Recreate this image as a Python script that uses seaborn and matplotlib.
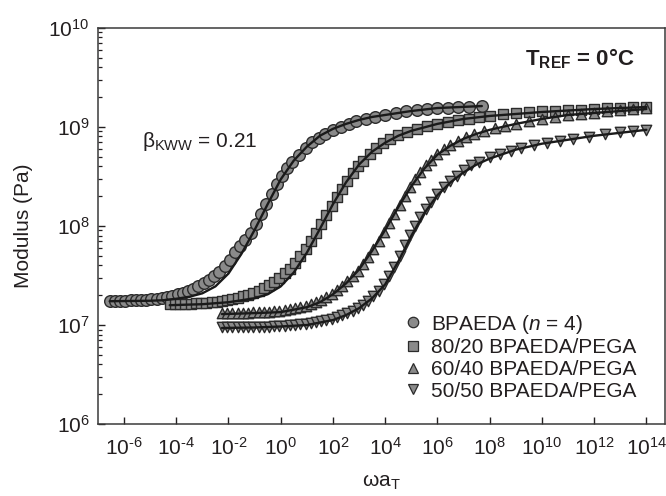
import numpy as np
import pandas as pd
import matplotlib
matplotlib.use("Agg")
import matplotlib.pyplot as plt
import seaborn as sns
from matplotlib.lines import Line2D
from matplotlib.ticker import FixedLocator, NullLocator, LogLocator, FuncFormatter

# ---------------- data (log10 values) ----------------
labels = ["BPAEDA ($\\mathit{n}$ = 4)", "80/20 BPAEDA/PEGA",
          "60/40 BPAEDA/PEGA", "50/50 BPAEDA/PEGA"]

bpaeda_logw = [-6.55, -6.35, -6.15, -5.95, -5.75, -5.55, -5.35, -5.15, -4.95, -4.75,
               -4.55, -4.35, -4.15, -3.95, -3.75, -3.55, -3.35, -3.15, -2.95, -2.75,
               -2.55, -2.35, -2.15, -1.95, -1.75, -1.55, -1.35, -1.15, -0.95, -0.75,
               -0.55, -0.35, -0.15, 0.05, 0.25, 0.45, 0.70, 0.95, 1.20, 1.45,
               1.70, 2.00, 2.30, 2.60, 2.90, 3.25, 3.60, 4.00, 4.40, 4.80,
               5.20, 5.60, 6.00, 6.40, 6.80, 7.20, 7.70]
bpaeda_logG = [7.24, 7.24, 7.24, 7.24, 7.25, 7.25, 7.25, 7.25, 7.26, 7.26,
               7.27, 7.28, 7.29, 7.31, 7.32, 7.34, 7.36, 7.39, 7.42, 7.45,
               7.49, 7.54, 7.60, 7.66, 7.74, 7.80, 7.86, 7.93, 8.02, 8.12,
               8.22, 8.32, 8.42, 8.50, 8.58, 8.65, 8.72, 8.79, 8.85, 8.89,
               8.93, 8.97, 9.00, 9.03, 9.06, 9.08, 9.10, 9.12, 9.14, 9.16,
               9.17, 9.18, 9.19, 9.19, 9.20, 9.20, 9.21]

b8020_logw = [-4.25, -4.05, -3.85, -3.65, -3.45, -3.25, -3.05, -2.85, -2.65, -2.45,
              -2.25, -2.05, -1.85, -1.65, -1.45, -1.25, -1.05, -0.85, -0.65, -0.45,
              -0.25, -0.05, 0.15, 0.35, 0.55, 0.75, 0.95, 1.15, 1.35, 1.55,
              1.75, 1.95, 2.15, 2.35, 2.55, 2.75, 2.95, 3.15, 3.40, 3.65,
              3.90, 4.20, 4.50, 4.85, 5.20, 5.60, 6.00, 6.40, 6.80, 7.20,
              7.60, 8.00, 8.50, 9.00, 9.50, 10.00, 10.50, 11.00, 11.50, 12.00,
              12.50, 13.00, 13.50, 14.00]
b8020_logG = [7.21, 7.21, 7.21, 7.21, 7.21, 7.22, 7.22, 7.22, 7.23, 7.23,
              7.24, 7.25, 7.26, 7.27, 7.29, 7.30, 7.32, 7.34, 7.37, 7.40,
              7.43, 7.47, 7.52, 7.57, 7.63, 7.70, 7.77, 7.85, 7.93, 8.02,
              8.11, 8.20, 8.29, 8.37, 8.45, 8.53, 8.60, 8.66, 8.73, 8.79,
              8.84, 8.88, 8.92, 8.95, 8.98, 9.01, 9.03, 9.05, 9.07, 9.08,
              9.10, 9.11, 9.13, 9.14, 9.15, 9.16, 9.16, 9.17, 9.17, 9.18,
              9.19, 9.19, 9.20, 9.20]

b6040_logw = [-2.25, -2.05, -1.85, -1.65, -1.45, -1.25, -1.05, -0.85, -0.65, -0.45,
              -0.25, -0.05, 0.15, 0.35, 0.55, 0.75, 0.95, 1.15, 1.35, 1.55,
              1.75, 1.95, 2.15, 2.35, 2.55, 2.75, 2.95, 3.15, 3.35, 3.55,
              3.75, 3.95, 4.15, 4.35, 4.55, 4.75, 4.95, 5.15, 5.35, 5.55,
              5.75, 6.00, 6.25, 6.50, 6.80, 7.10, 7.40, 7.80, 8.20, 8.60,
              9.00, 9.50, 10.00, 10.50, 11.00, 11.50, 12.00, 12.50, 13.00, 13.50,
              14.00]
b6040_logG = [7.12, 7.12, 7.12, 7.12, 7.12, 7.12, 7.13, 7.13, 7.13, 7.13,
              7.14, 7.14, 7.15, 7.16, 7.17, 7.18, 7.19, 7.21, 7.23, 7.25,
              7.28, 7.31, 7.35, 7.39, 7.44, 7.49, 7.55, 7.62, 7.69, 7.77,
              7.85, 7.94, 8.03, 8.12, 8.21, 8.30, 8.39, 8.47, 8.54, 8.61,
              8.67, 8.73, 8.78, 8.82, 8.86, 8.90, 8.93, 8.96, 8.99, 9.01,
              9.03, 9.06, 9.08, 9.10, 9.12, 9.13, 9.14, 9.16, 9.17, 9.18,
              9.19]

b5050_logw = [-2.25, -2.05, -1.85, -1.65, -1.45, -1.25, -1.05, -0.85, -0.65, -0.45,
              -0.25, -0.05, 0.15, 0.35, 0.55, 0.75, 0.95, 1.15, 1.35, 1.55,
              1.75, 1.95, 2.15, 2.35, 2.55, 2.75, 2.95, 3.15, 3.35, 3.55,
              3.75, 3.95, 4.15, 4.35, 4.55, 4.75, 4.95, 5.15, 5.35, 5.55,
              5.75, 6.00, 6.25, 6.50, 6.75, 7.00, 7.30, 7.60, 8.00, 8.40,
              8.80, 9.20, 9.70, 10.20, 10.70, 11.20, 11.80, 12.40, 13.00, 13.50,
              14.00]
b5050_logG = [6.98, 6.98, 6.98, 6.98, 6.98, 6.98, 6.98, 6.98, 6.98, 6.98,
              6.99, 6.99, 6.99, 7.00, 7.00, 7.01, 7.01, 7.02, 7.03, 7.04,
              7.05, 7.06, 7.08, 7.10, 7.12, 7.14, 7.17, 7.20, 7.24, 7.29,
              7.34, 7.41, 7.49, 7.59, 7.70, 7.81, 7.91, 8.00, 8.09, 8.17,
              8.24, 8.32, 8.39, 8.45, 8.50, 8.56, 8.61, 8.65, 8.70, 8.73,
              8.76, 8.79, 8.82, 8.84, 8.86, 8.88, 8.90, 8.93, 8.95, 8.96,
              8.97]

# KWW fit curves
fit1_logw = [-6.55, -5.0, -4.5, -4.0, -3.5, -3.0, -2.5, -2.0, -1.5, -1.0, -0.5, 0.0,
             0.5, 1.0, 1.5, 2.0, 2.5, 3.0, 3.5, 4.0, 5.0, 6.0, 7.7]
fit1_logG = [7.24, 7.245, 7.25, 7.265, 7.285, 7.32, 7.39, 7.52, 7.72, 7.96, 8.22, 8.47,
             8.66, 8.80, 8.91, 8.98, 9.03, 9.07, 9.10, 9.12, 9.16, 9.19, 9.21]
fit2_logw = [-4.25, -3.0, -2.0, -1.0, -0.5, 0.0, 0.5, 1.0, 1.5, 2.0, 2.5, 3.0, 3.5,
             4.0, 4.5, 5.0, 6.0, 7.0, 8.0, 10.0, 12.0, 14.0]
fit2_logG = [7.20, 7.21, 7.23, 7.27, 7.31, 7.39, 7.53, 7.73, 7.97, 8.22, 8.44, 8.62, 8.75,
             8.84, 8.91, 8.96, 9.03, 9.08, 9.11, 9.15, 9.18, 9.20]
fit3_logw = [-2.25, -1.0, 0.0, 1.0, 1.5, 2.0, 2.5, 3.0, 3.5, 4.0, 4.5, 5.0, 5.5, 6.0,
             6.5, 7.0, 7.5, 8.0, 9.0, 10.0, 11.0, 12.0, 13.0, 14.0]
fit3_logG = [7.11, 7.12, 7.13, 7.18, 7.23, 7.31, 7.42, 7.56, 7.75, 7.96, 8.19, 8.40, 8.58, 8.72,
             8.81, 8.88, 8.93, 8.97, 9.03, 9.08, 9.12, 9.14, 9.16, 9.18]
fit4_logw = [-2.25, -1.0, 0.0, 1.0, 2.0, 2.5, 3.0, 3.5, 4.0, 4.5, 5.0, 5.5, 6.0, 6.5,
             7.0, 7.5, 8.0, 9.0, 10.0, 11.0, 12.0, 13.0, 14.0]
fit4_logG = [6.97, 6.975, 6.985, 7.00, 7.05, 7.10, 7.17, 7.27, 7.41, 7.64, 7.90, 8.13, 8.31, 8.44,
             8.54, 8.62, 8.68, 8.77, 8.83, 8.87, 8.91, 8.94, 8.97]

# ---------------- build tables ----------------
series = [(bpaeda_logw, bpaeda_logG), (b8020_logw, b8020_logG),
          (b6040_logw, b6040_logG), (b5050_logw, b5050_logG)]
fits = [(fit1_logw, fit1_logG), (fit2_logw, fit2_logG),
        (fit3_logw, fit3_logG), (fit4_logw, fit4_logG)]

pts = pd.concat([pd.DataFrame({"w": 10.0 ** np.array(x), "G": 10.0 ** np.array(y), "sample": lab})
                 for (x, y), lab in zip(series, labels)], ignore_index=True)
fit_df = pd.concat([pd.DataFrame({"w": 10.0 ** np.array(x), "G": 10.0 ** np.array(y), "sample": lab})
                    for (x, y), lab in zip(fits, labels)], ignore_index=True)

markers = ["o", "s", "^", "v"]
sizes = [70, 46, 56, 56]
face = "#8a8a8a"
edge = "#2b2b2b"
ink = "#231f20"
FS = 15

# ---------------- style ----------------
sns.set_theme(style="white")
plt.rcParams["font.family"] = ["Liberation Sans", "DejaVu Sans"]
plt.rcParams["mathtext.fontset"] = "custom"
plt.rcParams["mathtext.rm"] = "Liberation Sans"
plt.rcParams["mathtext.it"] = "Liberation Sans:italic"
plt.rcParams["mathtext.bf"] = "Liberation Sans:bold"
plt.rcParams["text.color"] = ink
plt.rcParams["axes.labelcolor"] = ink
plt.rcParams["xtick.color"] = ink
plt.rcParams["ytick.color"] = ink

fig = plt.figure(figsize=(6.66, 4.96), dpi=100)
ax = fig.add_axes([0.147, 0.145, 0.851, 0.799])
ax.set_xscale("log")
ax.set_yscale("log")

for lab, m, s in zip(labels, markers, sizes):
    sns.scatterplot(data=pts[pts["sample"] == lab], x="w", y="G", marker=m, s=s,
                    color=face, edgecolor=edge, linewidth=1.0, ax=ax, legend=False,
                    zorder=2)
for lab in labels:
    sns.lineplot(data=fit_df[fit_df["sample"] == lab], x="w", y="G", color="#1a1a1a",
                 linewidth=1.7, sort=False, estimator=None, ax=ax, legend=False, zorder=3)

ax.set_xlim(10.0 ** -7.0, 10.0 ** 14.7)
ax.set_ylim(1e6, 1e10)

# ticks
ax.xaxis.set_major_locator(FixedLocator([10.0 ** k for k in range(-6, 15, 2)]))
ax.xaxis.set_minor_locator(NullLocator())
ax.yaxis.set_major_locator(FixedLocator([10.0 ** k for k in range(6, 11)]))
ax.yaxis.set_minor_locator(LogLocator(base=10, subs=np.arange(2, 10), numticks=20))

def fmt(v, pos):
    k = int(round(np.log10(v)))
    e = str(k).replace("-", "\u2010")
    return "$\\mathregular{10^{%s}}$" % e

ax.xaxis.set_major_formatter(FuncFormatter(fmt))
ax.yaxis.set_major_formatter(FuncFormatter(fmt))
ax.yaxis.set_minor_formatter(FuncFormatter(lambda v, p: ""))
ax.tick_params(axis="both", which="major", direction="in", length=5, width=1.0,
               labelsize=FS, top=False, right=False, bottom=True, left=True)
ax.tick_params(axis="x", which="major", pad=9)
ax.tick_params(axis="y", which="major", pad=6)
ax.tick_params(axis="y", which="minor", direction="in", length=3, width=0.9, left=True)

for sp in ax.spines.values():
    sp.set_color("#3a3a3a")
    sp.set_linewidth(1.1)

ax.set_xlabel("ωa$_\\mathregular{T}$", fontsize=FS, labelpad=10)
ax.set_ylabel("Modulus (Pa)", fontsize=FS, labelpad=11)

# annotations
ax.text(0.947, 0.952, "T$_{\\mathbf{REF}}$ = 0°C", transform=ax.transAxes,
        ha="right", va="top", fontsize=16, fontweight="bold")
ax.text(0.077, 0.712, "β$_{\\mathregular{KWW}}$ = 0.21", transform=ax.transAxes,
        ha="left", va="center", fontsize=FS)

# legend
handles = [Line2D([], [], linestyle="none", marker=m, markersize=ms,
                  markerfacecolor=face, markeredgecolor=edge, markeredgewidth=0.9)
           for m, ms in zip(markers, [7.5, 7, 7.5, 7.5])]
leg = ax.legend(handles, labels, loc="lower right", bbox_to_anchor=(0.976, 0.022),
                frameon=False, fontsize=FS, handlelength=0.8, handletextpad=0.45,
                labelspacing=0.13, borderpad=0.2)

fig.savefig("out.png", dpi=100)
